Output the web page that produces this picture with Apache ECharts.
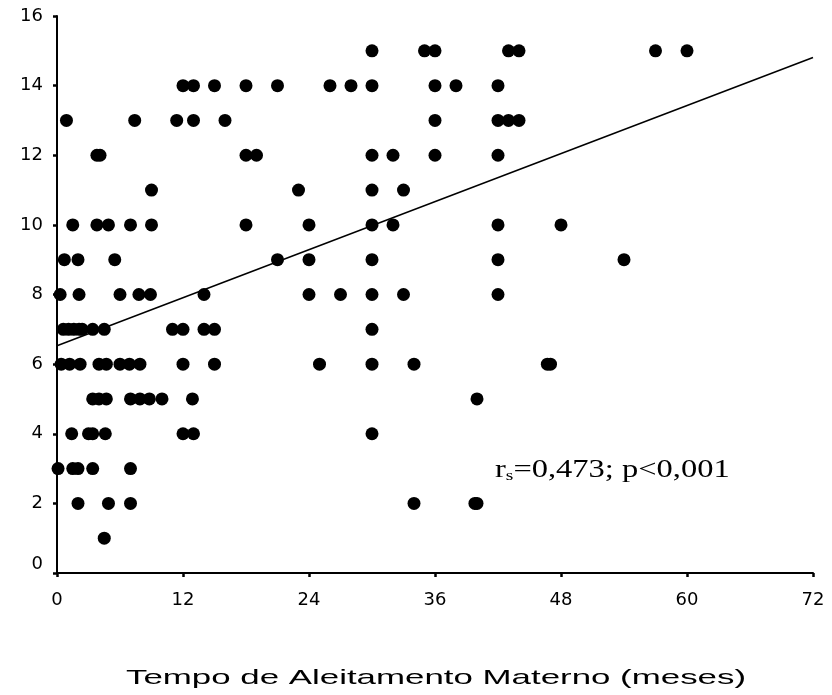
<!DOCTYPE html>
<html>
<head>
<meta charset="utf-8">
<script src="https://cdn.jsdelivr.net/npm/echarts@6/dist/echarts.min.js"></script>
<style>
  html, body { margin: 0; padding: 0; background: #fff; }
  #main { width: 832px; height: 695px; }
</style>
</head>
<body>
<div id="main"></div>
<script>
// escore (eixo y) e, para cada nível, os meses de aleitamento
const scoreLevels = [15, 14, 13, 12, 11, 10, 9, 8, 7, 6, 5, 4, 3, 2, 1]
const monthsByLevel = [
  [30, 35, 36, 43, 44, 57, 60],
  [12, 13, 15, 18, 21, 26, 28, 30, 36, 38, 42],
  [0.9, 7.4, 11.4, 13, 16, 36, 42, 43, 44],
  [3.8, 4.1, 18, 19, 30, 32, 36, 42],
  [9, 23, 30, 33],
  [1.5, 3.8, 4.9, 7, 9, 18, 24, 30, 32, 42, 48],
  [0.7, 2, 5.5, 21, 24, 30, 42, 54],
  [0.3, 2.1, 6, 7.8, 8.9, 14, 24, 27, 30, 33, 42],
  [0.6, 1.1, 1.6, 2.1, 2.4, 3.4, 4.5, 11, 12, 14, 15, 30],
  [0.4, 1.2, 2.2, 4, 4.7, 6, 6.9, 7.9, 12, 15, 25, 30, 34, 46.7, 47],
  [3.4, 4, 4.7, 7, 7.9, 8.8, 10, 12.9, 40],
  [1.4, 3, 3.4, 4.6, 12, 13, 30],
  [0.1, 1.5, 2, 3.4, 7],
  [2, 4.9, 7, 34, 39.8, 40],
  [4.5],
]

// reta de tendência
const fitX = [0, 72]
const fitY = [6.53, 14.81]

// eixos
const xRange = [0, 72]
const xStep = 12
const yRange = [0, 16]
const yStep = 2

const xTitle = 'Tempo de Aleitamento Materno (meses)'
const statText = '=0,473; p<0,001'

const points = []
scoreLevels.forEach((lvl, i) => {
  monthsByLevel[i].forEach(m => points.push([m, lvl]))
})
const fitLine = fitX.map((x, i) => [x, fitY[i]])

const chart = echarts.init(document.getElementById('main'))

const axisBase = {
  splitLine: { show: false },
  axisLine: { show: true, onZero: false, lineStyle: { color: '#000', width: 2 } },
  axisTick: { show: true, length: 4, lineStyle: { color: '#000', width: 2.5 } },
}

const option = {
  animation: false,
  backgroundColor: '#fff',
  grid: { left: 57, right: 19, top: 16, bottom: 122 },
  xAxis: {
    ...axisBase,
    type: 'value',
    min: xRange[0],
    max: xRange[1],
    interval: xStep,
    axisLabel: { color: '#000', fontFamily: 'DejaVu Sans', fontSize: 18, margin: 18 },
  },
  yAxis: {
    ...axisBase,
    type: 'value',
    min: yRange[0],
    max: yRange[1],
    interval: yStep,
    axisLabel: {
      color: '#000', fontFamily: 'DejaVu Sans', fontSize: 18, margin: 14,
      verticalAlignMinLabel: 'bottom',
    },
  },
  graphic: [
    {
      type: 'text',
      x: 436,
      y: 678,
      scaleX: 1.66,
      style: {
        text: xTitle,
        fontFamily: 'Liberation Sans',
        fontSize: 21,
        fill: '#000',
        align: 'center',
        verticalAlign: 'middle',
      },
    },
    {
      type: 'text',
      x: 495,
      y: 470,
      scaleX: 1.3,
      style: {
        text: '{r|r}{s|s}{t|' + statText + '}',
        fill: '#000',
        align: 'left',
        verticalAlign: 'middle',
        rich: {
          r: { fontFamily: 'Liberation Serif', fontSize: 25, lineHeight: 28 },
          s: { fontFamily: 'Liberation Serif', fontSize: 15, lineHeight: 28, verticalAlign: 'bottom', padding: [10, 0, 0, 0] },
          t: { fontFamily: 'Liberation Serif', fontSize: 25, lineHeight: 28 },
        },
      },
    },
  ],
  series: [
    {
      type: 'scatter',
      data: points,
      symbol: 'circle',
      symbolSize: 13,
      itemStyle: { color: '#000', opacity: 1 },
      z: 2,
    },
    {
      type: 'line',
      data: fitLine,
      showSymbol: false,
      lineStyle: { color: '#000', width: 1.5 },
      z: 3,
    },
  ],
}

chart.setOption(option)
</script>
</body>
</html>
